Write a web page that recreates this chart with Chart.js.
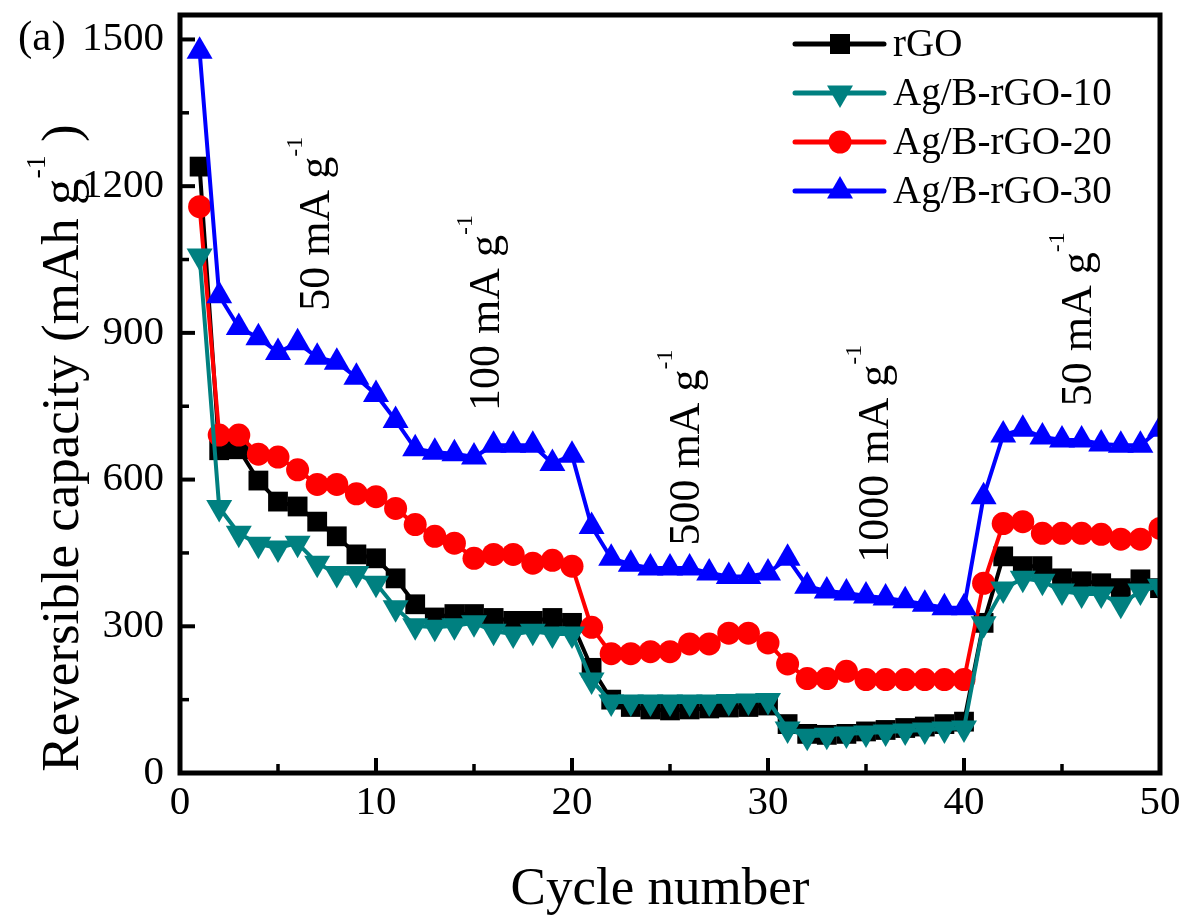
<!DOCTYPE html>
<html>
<head>
<meta charset="utf-8">
<script src="https://cdn.jsdelivr.net/npm/chart.js@4.4.1/dist/chart.umd.min.js"></script>
<style>
html, body { margin: 0; padding: 0; background: #fff; }
canvas { display: block; }
</style>
</head>
<body>
<canvas id="myChart" width="1186" height="917"></canvas>
<script>
// cycle numbers (x)
const cycles = [1, 2, 3, 4, 5, 6, 7, 8, 9, 10,
    11, 12, 13, 14, 15, 16, 17, 18, 19, 20,
    21, 22, 23, 24, 25, 26, 27, 28, 29, 30,
    31, 32, 33, 34, 35, 36, 37, 38, 39, 40,
    41, 42, 43, 44, 45, 46, 47, 48, 49, 50]

// reversible capacity, mAh g-1
const rGO = [1240, 660, 662, 598, 555, 545, 514, 484, 447, 439,
    398, 345, 318, 325, 325, 317, 311, 311, 317, 307,
    215, 150, 135, 130, 128, 130, 132, 134, 135, 138,
    100, 80, 78, 80, 85, 88, 92, 95, 100, 105,
    307, 443, 423, 423, 398, 392, 388, 378, 396, 378]
const agB10 = [1057, 543, 490, 468, 460, 470, 429, 408, 408, 388,
    338, 301, 298, 301, 307, 290, 284, 290, 284, 284,
    190, 145, 145, 145, 145, 145, 145, 146, 147, 148,
    90, 75, 77, 80, 82, 84, 86, 88, 90, 92,
    305, 376, 398, 392, 372, 366, 366, 345, 372, 382]
const agB20 = [1158, 691, 691, 652, 646, 620, 590, 590, 571, 565,
    541, 508, 484, 470, 439, 447, 447, 429, 435, 423,
    298, 244, 244, 248, 248, 264, 264, 286, 286, 266,
    223, 193, 193, 208, 191, 191, 191, 191, 191, 191,
    388, 510, 514, 490, 490, 490, 488, 478, 478, 500]
const agB30 = [1476, 976, 911, 890, 860, 880, 850, 840, 809, 774,
    721, 663, 656, 653, 646, 670, 670, 670, 633, 650,
    504, 439, 427, 419, 419, 419, 409, 402, 402, 409,
    439, 382, 372, 368, 362, 358, 352, 345, 338, 338,
    565, 691, 703, 687, 681, 681, 673, 670, 670, 703]

const seriesNames = ['rGO', 'Ag/B-rGO-10', 'Ag/B-rGO-20', 'Ag/B-rGO-30']
const seriesColors = ['#000000', '#008080', '#ff0000', '#0000ff']

const xTicks = [0, 10, 20, 30, 40, 50]
const xMinor = [5, 15, 25, 35, 45]
const yTicks = [0, 300, 600, 900, 1200, 1500]
const yMinor = [150, 450, 750, 1050, 1350]

// current density labels: [text, cycle, capacity at start of text]
const rateLabels = [
    ['50 mA g', 7.6, 945],
    ['100 mA g', 16.3, 740],
    ['500 mA g', 26.5, 465],
    ['1000 mA g', 36.1, 430],
    ['50 mA g', 46.5, 750]
]

const serif = '"Liberation Serif", "Times New Roman", serif'

function toPoints(values) {
    return cycles.map((c, i) => ({ x: c, y: values[i] }))
}

function richText(ctx, parts, x, y, align) {
    let total = 0
    parts.forEach(p => {
        ctx.font = p.size + 'px ' + serif
        p.w = ctx.measureText(p.t).width
        total += p.w
    })
    let cx = align === 'center' ? x - total / 2 : x
    parts.forEach(p => {
        ctx.font = p.size + 'px ' + serif
        ctx.fillText(p.t, cx, y + (p.dy || 0))
        cx += p.w
    })
}

function drawMarker(ctx, style, x, y, color) {
    ctx.fillStyle = color
    ctx.beginPath()
    if (style === 'rect') {
        ctx.rect(x - 10, y - 10, 20, 20)
    } else if (style === 'circle') {
        ctx.arc(x, y, 11.5, 0, Math.PI * 2)
    } else if (style === 'up') {
        ctx.moveTo(x, y - 15); ctx.lineTo(x + 13, y + 7.5); ctx.lineTo(x - 13, y + 7.5)
    } else {
        ctx.moveTo(x, y + 15); ctx.lineTo(x + 13, y - 7.5); ctx.lineTo(x - 13, y - 7.5)
    }
    ctx.closePath()
    ctx.fill()
}

const markerStyles = ['rect', 'down', 'circle', 'up']

// frame with inward ticks, drawn over the data like the original
const framePlugin = {
    id: 'frame',
    afterDatasetsDraw(chart) {
        const ctx = chart.ctx
        const a = chart.chartArea
        const xs = chart.scales.x
        const ys = chart.scales.y
        ctx.save()
        ctx.strokeStyle = '#000'
        ctx.lineWidth = 5
        ctx.strokeRect(a.left, a.top, a.right - a.left, a.bottom - a.top)
        ctx.lineCap = 'butt'
        function tickX(v, len, w) {
            const px = xs.getPixelForValue(v)
            ctx.lineWidth = w
            ctx.beginPath(); ctx.moveTo(px, a.bottom); ctx.lineTo(px, a.bottom - len); ctx.stroke()
        }
        function tickY(v, len, w) {
            const py = ys.getPixelForValue(v)
            ctx.lineWidth = w
            ctx.beginPath(); ctx.moveTo(a.left, py); ctx.lineTo(a.left + len, py); ctx.stroke()
        }
        xTicks.forEach(v => tickX(v, 15, 4))
        xMinor.forEach(v => tickX(v, 9, 3.5))
        yTicks.forEach(v => tickY(v, 15, 4))
        yMinor.forEach(v => tickY(v, 9, 3.5))
        ctx.restore()
    }
}

const textPlugin = {
    id: 'texts',
    afterDraw(chart) {
        const ctx = chart.ctx
        const xs = chart.scales.x
        const ys = chart.scales.y
        ctx.save()
        ctx.fillStyle = '#000'
        ctx.textBaseline = 'alphabetic'
        ctx.textAlign = 'left'

        // axis titles
        richText(ctx, [{ t: 'Cycle number', size: 53 }], 660, 904, 'center')

        ctx.save()
        ctx.translate(78, 448)
        ctx.rotate(-Math.PI / 2)
        richText(ctx, [
            { t: 'Reversible capacity (mAh g', size: 53 },
            { t: '-1', size: 28, dy: -33 },
            { t: ' )', size: 53 }
        ], 0, 0, 'center')
        ctx.restore()

        // panel label
        richText(ctx, [{ t: '(a)', size: 43 }], 18, 50, 'left')

        // current density labels
        rateLabels.forEach(r => {
            ctx.save()
            ctx.translate(xs.getPixelForValue(r[1]), ys.getPixelForValue(r[2]))
            ctx.rotate(-Math.PI / 2)
            richText(ctx, [
                { t: r[0], size: 44 },
                { t: '-1', size: 24, dy: -27 }
            ], 0, 0, 'left')
            ctx.restore()
        })

        // legend: line + marker + name
        chart.data.datasets.forEach((ds, i) => {
            const y = 44 + i * 49
            ctx.strokeStyle = ds.borderColor
            ctx.lineWidth = 5
            ctx.lineCap = 'round'
            ctx.beginPath(); ctx.moveTo(795, y); ctx.lineTo(884, y); ctx.stroke()
            drawMarker(ctx, markerStyles[i], 840, y, ds.borderColor)
            ctx.fillStyle = '#000'
            ctx.textBaseline = 'middle'
            richText(ctx, [{ t: ds.label, size: 39 }], 893, y + 2, 'left')
            ctx.textBaseline = 'alphabetic'
        })
        ctx.restore()
    }
}

const datasets = [
    { label: seriesNames[0], data: toPoints(rGO), pointStyle: 'rect', pointRadius: 14, pointRotation: 0, order: 4 },
    { label: seriesNames[1], data: toPoints(agB10), pointStyle: 'triangle', pointRadius: 15, pointRotation: 180, order: 1 },
    { label: seriesNames[2], data: toPoints(agB20), pointStyle: 'circle', pointRadius: 11.5, pointRotation: 0, order: 3 },
    { label: seriesNames[3], data: toPoints(agB30), pointStyle: 'triangle', pointRadius: 15, pointRotation: 0, order: 2 }
].map((d, i) => Object.assign(d, {
    borderColor: seriesColors[i],
    backgroundColor: seriesColors[i],
    pointBackgroundColor: seriesColors[i],
    pointBorderColor: seriesColors[i],
    pointBorderWidth: 0,
    borderWidth: 4,
    tension: 0,
    pointHoverRadius: d.pointRadius
}))

const tickFont = { family: serif, size: 41 }

new Chart(document.getElementById('myChart'), {
    type: 'line',
    data: { datasets: datasets },
    options: {
        responsive: false,
        devicePixelRatio: 1,
        animation: false,
        events: [],
        layout: { padding: { top: 11, right: 26, left: 0, bottom: 0 } },
        plugins: {
            legend: { display: false },
            tooltip: { enabled: false }
        },
        scales: {
            x: {
                type: 'linear',
                min: 0,
                max: 50,
                afterBuildTicks: s => { s.ticks = xTicks.map(v => ({ value: v })) },
                afterFit: s => { s.height = 144; s.paddingLeft = 0; s.paddingRight = 0 },
                grid: { display: false, drawTicks: false },
                border: { display: false },
                ticks: { font: tickFont, color: '#000', padding: 6, maxRotation: 0, autoSkip: false, callback: v => String(v) }
            },
            y: {
                min: 0,
                max: 1550,
                afterBuildTicks: s => { s.ticks = yTicks.map(v => ({ value: v })) },
                afterFit: s => { s.width = 180; s.paddingTop = 0; s.paddingBottom = 0 },
                grid: { display: false, drawTicks: false },
                border: { display: false },
                ticks: { font: tickFont, color: '#000', padding: 16, callback: v => String(v) }
            }
        }
    },
    plugins: [framePlugin, textPlugin]
})
</script>
</body>
</html>
